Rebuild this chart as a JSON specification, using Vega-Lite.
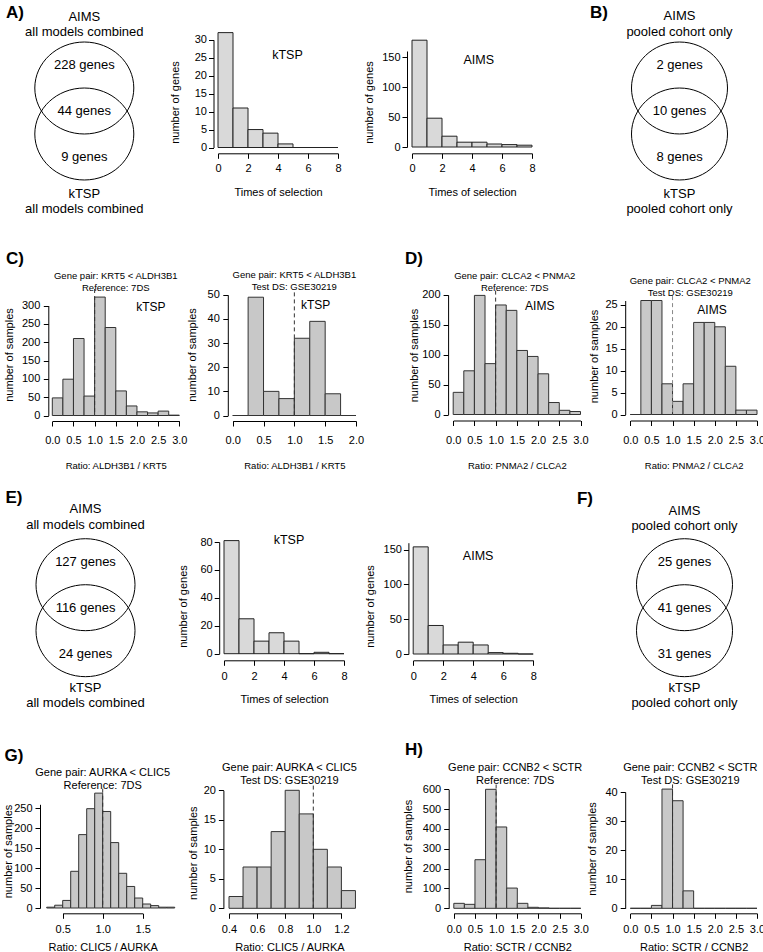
{
"$schema": "https://vega.github.io/schema/vega-lite/v6.json",
"padding": 0,
"background": "white",
"spacing": 0,
"bounds": "flush",
"columns": 4,
"align": "none",
"config": {
 "view": {"stroke": null},
 "font": "Liberation Sans",
 "axis": {"domainColor": "#000", "tickColor": "#000", "labelColor": "#000", "titleColor": "#000", "labelFont": "Liberation Sans", "titleFont": "Liberation Sans", "labelFontSize": 11, "titleFontSize": 11, "titleFontWeight": "normal", "tickSize": 5, "grid": false, "labelFlush": false, "labelOverlap": false, "labelBound": false, "domainWidth": 1, "tickWidth": 1, "tickCount": 20},
 "text": {"font": "Liberation Sans", "fontSize": 13, "align": "center", "baseline": "middle", "color": "#000"}
},
"datasets": {
 "hist": [
  {"panel": "A-kTSP", "bin_start": 0, "bin_end": 1, "count": 32},
  {"panel": "A-kTSP", "bin_start": 1, "bin_end": 2, "count": 11},
  {"panel": "A-kTSP", "bin_start": 2, "bin_end": 3, "count": 5},
  {"panel": "A-kTSP", "bin_start": 3, "bin_end": 4, "count": 4},
  {"panel": "A-kTSP", "bin_start": 4, "bin_end": 5, "count": 1},
  {"panel": "A-kTSP", "bin_start": 5, "bin_end": 6, "count": 0},
  {"panel": "A-kTSP", "bin_start": 6, "bin_end": 7, "count": 0},
  {"panel": "A-kTSP", "bin_start": 7, "bin_end": 8, "count": 0},
  {"panel": "A-AIMS", "bin_start": 0, "bin_end": 1, "count": 178},
  {"panel": "A-AIMS", "bin_start": 1, "bin_end": 2, "count": 48},
  {"panel": "A-AIMS", "bin_start": 2, "bin_end": 3, "count": 18},
  {"panel": "A-AIMS", "bin_start": 3, "bin_end": 4, "count": 8},
  {"panel": "A-AIMS", "bin_start": 4, "bin_end": 5, "count": 8},
  {"panel": "A-AIMS", "bin_start": 5, "bin_end": 6, "count": 5},
  {"panel": "A-AIMS", "bin_start": 6, "bin_end": 7, "count": 4},
  {"panel": "A-AIMS", "bin_start": 7, "bin_end": 8, "count": 3},
  {"panel": "C-left", "bin_start": 0, "bin_end": 0.25, "count": 48},
  {"panel": "C-left", "bin_start": 0.25, "bin_end": 0.5, "count": 99},
  {"panel": "C-left", "bin_start": 0.5, "bin_end": 0.75, "count": 210},
  {"panel": "C-left", "bin_start": 0.75, "bin_end": 1, "count": 53},
  {"panel": "C-left", "bin_start": 1, "bin_end": 1.25, "count": 323},
  {"panel": "C-left", "bin_start": 1.25, "bin_end": 1.5, "count": 240},
  {"panel": "C-left", "bin_start": 1.5, "bin_end": 1.75, "count": 67},
  {"panel": "C-left", "bin_start": 1.75, "bin_end": 2, "count": 26},
  {"panel": "C-left", "bin_start": 2, "bin_end": 2.25, "count": 10},
  {"panel": "C-left", "bin_start": 2.25, "bin_end": 2.5, "count": 7},
  {"panel": "C-left", "bin_start": 2.5, "bin_end": 2.75, "count": 12},
  {"panel": "C-left", "bin_start": 2.75, "bin_end": 3, "count": 1},
  {"panel": "C-right", "bin_start": 0, "bin_end": 0.25, "count": 0},
  {"panel": "C-right", "bin_start": 0.25, "bin_end": 0.5, "count": 49},
  {"panel": "C-right", "bin_start": 0.5, "bin_end": 0.75, "count": 10},
  {"panel": "C-right", "bin_start": 0.75, "bin_end": 1, "count": 7},
  {"panel": "C-right", "bin_start": 1, "bin_end": 1.25, "count": 32},
  {"panel": "C-right", "bin_start": 1.25, "bin_end": 1.5, "count": 39},
  {"panel": "C-right", "bin_start": 1.5, "bin_end": 1.75, "count": 9},
  {"panel": "C-right", "bin_start": 1.75, "bin_end": 2, "count": 0},
  {"panel": "D-left", "bin_start": 0, "bin_end": 0.25, "count": 37},
  {"panel": "D-left", "bin_start": 0.25, "bin_end": 0.5, "count": 73},
  {"panel": "D-left", "bin_start": 0.5, "bin_end": 0.75, "count": 199},
  {"panel": "D-left", "bin_start": 0.75, "bin_end": 1, "count": 85},
  {"panel": "D-left", "bin_start": 1, "bin_end": 1.25, "count": 183},
  {"panel": "D-left", "bin_start": 1.25, "bin_end": 1.5, "count": 174},
  {"panel": "D-left", "bin_start": 1.5, "bin_end": 1.75, "count": 107},
  {"panel": "D-left", "bin_start": 1.75, "bin_end": 2, "count": 97},
  {"panel": "D-left", "bin_start": 2, "bin_end": 2.25, "count": 68},
  {"panel": "D-left", "bin_start": 2.25, "bin_end": 2.5, "count": 20},
  {"panel": "D-left", "bin_start": 2.5, "bin_end": 2.75, "count": 7},
  {"panel": "D-left", "bin_start": 2.75, "bin_end": 3, "count": 5},
  {"panel": "D-right", "bin_start": 0, "bin_end": 0.25, "count": 0},
  {"panel": "D-right", "bin_start": 0.25, "bin_end": 0.5, "count": 26},
  {"panel": "D-right", "bin_start": 0.5, "bin_end": 0.75, "count": 26},
  {"panel": "D-right", "bin_start": 0.75, "bin_end": 1, "count": 7},
  {"panel": "D-right", "bin_start": 1, "bin_end": 1.25, "count": 3},
  {"panel": "D-right", "bin_start": 1.25, "bin_end": 1.5, "count": 7},
  {"panel": "D-right", "bin_start": 1.5, "bin_end": 1.75, "count": 21},
  {"panel": "D-right", "bin_start": 1.75, "bin_end": 2, "count": 21},
  {"panel": "D-right", "bin_start": 2, "bin_end": 2.25, "count": 20},
  {"panel": "D-right", "bin_start": 2.25, "bin_end": 2.5, "count": 11},
  {"panel": "D-right", "bin_start": 2.5, "bin_end": 2.75, "count": 1},
  {"panel": "D-right", "bin_start": 2.75, "bin_end": 3, "count": 1},
  {"panel": "E-kTSP", "bin_start": 0, "bin_end": 1, "count": 81},
  {"panel": "E-kTSP", "bin_start": 1, "bin_end": 2, "count": 25},
  {"panel": "E-kTSP", "bin_start": 2, "bin_end": 3, "count": 9},
  {"panel": "E-kTSP", "bin_start": 3, "bin_end": 4, "count": 15},
  {"panel": "E-kTSP", "bin_start": 4, "bin_end": 5, "count": 9},
  {"panel": "E-kTSP", "bin_start": 5, "bin_end": 6, "count": 0},
  {"panel": "E-kTSP", "bin_start": 6, "bin_end": 7, "count": 1},
  {"panel": "E-kTSP", "bin_start": 7, "bin_end": 8, "count": 0},
  {"panel": "E-AIMS", "bin_start": 0, "bin_end": 1, "count": 154},
  {"panel": "E-AIMS", "bin_start": 1, "bin_end": 2, "count": 41},
  {"panel": "E-AIMS", "bin_start": 2, "bin_end": 3, "count": 13},
  {"panel": "E-AIMS", "bin_start": 3, "bin_end": 4, "count": 17},
  {"panel": "E-AIMS", "bin_start": 4, "bin_end": 5, "count": 13},
  {"panel": "E-AIMS", "bin_start": 5, "bin_end": 6, "count": 2},
  {"panel": "E-AIMS", "bin_start": 6, "bin_end": 7, "count": 1},
  {"panel": "E-AIMS", "bin_start": 7, "bin_end": 8, "count": 0},
  {"panel": "G-left", "bin_start": 0.3, "bin_end": 0.4, "count": 2},
  {"panel": "G-left", "bin_start": 0.4, "bin_end": 0.5, "count": 7},
  {"panel": "G-left", "bin_start": 0.5, "bin_end": 0.6, "count": 19},
  {"panel": "G-left", "bin_start": 0.6, "bin_end": 0.7, "count": 92},
  {"panel": "G-left", "bin_start": 0.7, "bin_end": 0.8, "count": 184},
  {"panel": "G-left", "bin_start": 0.8, "bin_end": 0.9, "count": 249},
  {"panel": "G-left", "bin_start": 0.9, "bin_end": 1.0, "count": 288},
  {"panel": "G-left", "bin_start": 1.0, "bin_end": 1.1, "count": 242},
  {"panel": "G-left", "bin_start": 1.1, "bin_end": 1.2, "count": 164},
  {"panel": "G-left", "bin_start": 1.2, "bin_end": 1.3, "count": 87},
  {"panel": "G-left", "bin_start": 1.3, "bin_end": 1.4, "count": 54},
  {"panel": "G-left", "bin_start": 1.4, "bin_end": 1.5, "count": 25},
  {"panel": "G-left", "bin_start": 1.5, "bin_end": 1.6, "count": 10},
  {"panel": "G-left", "bin_start": 1.6, "bin_end": 1.7, "count": 6},
  {"panel": "G-left", "bin_start": 1.7, "bin_end": 1.8, "count": 2},
  {"panel": "G-left", "bin_start": 1.8, "bin_end": 1.9, "count": 2},
  {"panel": "G-right", "bin_start": 0.4, "bin_end": 0.5, "count": 2},
  {"panel": "G-right", "bin_start": 0.5, "bin_end": 0.6, "count": 7},
  {"panel": "G-right", "bin_start": 0.6, "bin_end": 0.7, "count": 7},
  {"panel": "G-right", "bin_start": 0.7, "bin_end": 0.8, "count": 13},
  {"panel": "G-right", "bin_start": 0.8, "bin_end": 0.9, "count": 20},
  {"panel": "G-right", "bin_start": 0.9, "bin_end": 1.0, "count": 16},
  {"panel": "G-right", "bin_start": 1.0, "bin_end": 1.1, "count": 10},
  {"panel": "G-right", "bin_start": 1.1, "bin_end": 1.2, "count": 7},
  {"panel": "G-right", "bin_start": 1.2, "bin_end": 1.3, "count": 3},
  {"panel": "H-left", "bin_start": 0, "bin_end": 0.25, "count": 25},
  {"panel": "H-left", "bin_start": 0.25, "bin_end": 0.5, "count": 20},
  {"panel": "H-left", "bin_start": 0.5, "bin_end": 0.75, "count": 245},
  {"panel": "H-left", "bin_start": 0.75, "bin_end": 1, "count": 600},
  {"panel": "H-left", "bin_start": 1, "bin_end": 1.25, "count": 410},
  {"panel": "H-left", "bin_start": 1.25, "bin_end": 1.5, "count": 102},
  {"panel": "H-left", "bin_start": 1.5, "bin_end": 1.75, "count": 25},
  {"panel": "H-left", "bin_start": 1.75, "bin_end": 2, "count": 5},
  {"panel": "H-left", "bin_start": 2, "bin_end": 2.25, "count": 2},
  {"panel": "H-left", "bin_start": 2.25, "bin_end": 2.5, "count": 0},
  {"panel": "H-left", "bin_start": 2.5, "bin_end": 2.75, "count": 0},
  {"panel": "H-left", "bin_start": 2.75, "bin_end": 3, "count": 0},
  {"panel": "H-right", "bin_start": 0, "bin_end": 0.25, "count": 0},
  {"panel": "H-right", "bin_start": 0.25, "bin_end": 0.5, "count": 0},
  {"panel": "H-right", "bin_start": 0.5, "bin_end": 0.75, "count": 1},
  {"panel": "H-right", "bin_start": 0.75, "bin_end": 1, "count": 41},
  {"panel": "H-right", "bin_start": 1, "bin_end": 1.25, "count": 37},
  {"panel": "H-right", "bin_start": 1.25, "bin_end": 1.5, "count": 6},
  {"panel": "H-right", "bin_start": 1.5, "bin_end": 1.75, "count": 0},
  {"panel": "H-right", "bin_start": 1.75, "bin_end": 2, "count": 0},
  {"panel": "H-right", "bin_start": 2, "bin_end": 2.25, "count": 0},
  {"panel": "H-right", "bin_start": 2.25, "bin_end": 2.5, "count": 0},
  {"panel": "H-right", "bin_start": 2.5, "bin_end": 2.75, "count": 0},
  {"panel": "H-right", "bin_start": 2.75, "bin_end": 3, "count": 0}
 ],
 "panels": [
  {"panel": "A-kTSP", "model": "kTSP"},
  {"panel": "A-AIMS", "model": "AIMS"},
  {"panel": "C-left", "model": "kTSP", "title": "Gene pair: KRT5 < ALDH3B1\nReference: 7DS"},
  {"panel": "C-right", "model": "kTSP", "title": "Gene pair: KRT5 < ALDH3B1\nTest DS: GSE30219"},
  {"panel": "D-left", "model": "AIMS", "title": "Gene pair: CLCA2 < PNMA2\nReference: 7DS"},
  {"panel": "D-right", "model": "AIMS", "title": "Gene pair: CLCA2 < PNMA2\nTest DS: GSE30219"},
  {"panel": "E-kTSP", "model": "kTSP"},
  {"panel": "E-AIMS", "model": "AIMS"},
  {"panel": "G-left", "title": "Gene pair: AURKA < CLIC5\nReference: 7DS"},
  {"panel": "G-right", "title": "Gene pair: AURKA < CLIC5\nTest DS: GSE30219"},
  {"panel": "H-left", "title": "Gene pair: CCNB2 < SCTR\nReference: 7DS"},
  {"panel": "H-right", "title": "Gene pair: CCNB2 < SCTR\nTest DS: GSE30219"}
 ],
 "venn": [
  {"panel": "A", "region": "AIMS only", "genes": 228},
  {"panel": "A", "region": "both", "genes": 44},
  {"panel": "A", "region": "kTSP only", "genes": 9},
  {"panel": "B", "region": "AIMS only", "genes": 2},
  {"panel": "B", "region": "both", "genes": 10},
  {"panel": "B", "region": "kTSP only", "genes": 8},
  {"panel": "E", "region": "AIMS only", "genes": 127},
  {"panel": "E", "region": "both", "genes": 116},
  {"panel": "E", "region": "kTSP only", "genes": 24},
  {"panel": "F", "region": "AIMS only", "genes": 25},
  {"panel": "F", "region": "both", "genes": 41},
  {"panel": "F", "region": "kTSP only", "genes": 31}
 ],
 "vennSets": [
  {"panel": "A", "set": "AIMS", "scope": "all models combined"},
  {"panel": "A", "set": "kTSP", "scope": "all models combined"},
  {"panel": "B", "set": "AIMS", "scope": "pooled cohort only"},
  {"panel": "B", "set": "kTSP", "scope": "pooled cohort only"},
  {"panel": "E", "set": "AIMS", "scope": "all models combined"},
  {"panel": "E", "set": "kTSP", "scope": "all models combined"},
  {"panel": "F", "set": "AIMS", "scope": "pooled cohort only"},
  {"panel": "F", "set": "kTSP", "scope": "pooled cohort only"}
 ]
},
"concat": [
  {"width": 217.3, "height": 147.5,
   "encoding": {"x": {"datum": 0, "type": "quantitative", "scale": {"domain": [-1, 1], "range": [34.8, 133.8]}, "axis": null}},
   "layer": [
    {"data": {"name": "vennSets"}, "transform": [{"filter": "datum.panel == 'A' && datum.set == 'AIMS'"}], "mark": {"type": "point", "shape": "M-1,0A1,0.929,0,1,1,1,0A1,0.929,0,1,1,-1,0Z", "size": 9801, "filled": false, "color": "#000", "strokeWidth": 1, "opacity": 1}, "encoding": {"y": {"datum": 0.5, "type": "quantitative", "scale": {"domain": [-1, 1], "range": [157, 65]}, "axis": null}}},
    {"data": {"name": "vennSets"}, "transform": [{"filter": "datum.panel == 'A' && datum.set == 'kTSP'"}], "mark": {"type": "point", "shape": "M-1,0A1,0.929,0,1,1,1,0A1,0.929,0,1,1,-1,0Z", "size": 9801, "filled": false, "color": "#000", "strokeWidth": 1, "opacity": 1}, "encoding": {"y": {"datum": -0.5, "axis": null}}},
    {"data": {"name": "vennSets"}, "transform": [{"filter": "datum.panel == 'A' && datum.set == 'AIMS'"}], "mark": {"type": "text"}, "encoding": {"y": {"datum": 2.043, "axis": null}, "text": {"field": "set"}}},
    {"data": {"name": "vennSets"}, "transform": [{"filter": "datum.panel == 'A' && datum.set == 'AIMS'"}], "mark": {"type": "text"}, "encoding": {"y": {"datum": 1.717, "axis": null}, "text": {"field": "scope"}}},
    {"data": {"name": "vennSets"}, "transform": [{"filter": "datum.panel == 'A' && datum.set == 'kTSP'"}], "mark": {"type": "text"}, "encoding": {"y": {"datum": -1.804, "axis": null}, "text": {"field": "set"}}},
    {"data": {"name": "vennSets"}, "transform": [{"filter": "datum.panel == 'A' && datum.set == 'kTSP'"}], "mark": {"type": "text"}, "encoding": {"y": {"datum": -2.13, "axis": null}, "text": {"field": "scope"}}},
    {"data": {"name": "vennSets"}, "transform": [{"filter": "datum.panel == 'A' && datum.set == 'AIMS'"}], "mark": {"type": "text", "fontSize": 17, "fontWeight": "bold"}, "encoding": {"x": {"datum": -1.4}, "y": {"datum": 2.14, "axis": null}, "text": {"value": "A)"}}},
    {"data": {"name": "venn"}, "transform": [{"filter": "datum.panel == 'A' && datum.region == 'AIMS only'"}, {"calculate": "datum.genes + ' genes'", "as": "label"}], "mark": {"type": "text"}, "encoding": {"y": {"datum": 1, "axis": null}, "text": {"field": "label"}}},
    {"data": {"name": "venn"}, "transform": [{"filter": "datum.panel == 'A' && datum.region == 'both'"}, {"calculate": "datum.genes + ' genes'", "as": "label"}], "mark": {"type": "text"}, "encoding": {"y": {"datum": 0, "axis": null}, "text": {"field": "label"}}},
    {"data": {"name": "venn"}, "transform": [{"filter": "datum.panel == 'A' && datum.region == 'kTSP only'"}, {"calculate": "datum.genes + ' genes'", "as": "label"}], "mark": {"type": "text"}, "encoding": {"y": {"datum": -1, "axis": null}, "text": {"field": "label"}}}
   ]},
  {"width": 193.2, "height": 147.5,
   "layer": [
    {"data": {"name": "hist"}, "transform": [{"filter": "datum.panel == 'A-kTSP'"}], "mark": {"type": "rect", "fill": "#d9d9d9", "stroke": "#222", "strokeWidth": 1},
     "encoding": {
      "x": {"field": "bin_start", "type": "quantitative", "scale": {"domain": [0, 8], "range": [0, 120]}, "axis": {"values": [0, 2, 4, 6, 8], "tickCount": 20, "format": "d", "labelOverlap": false, "offset": 5.8, "labelPadding": 10, "labelBaseline": "middle", "title": "Times of selection", "titleY": 39, "titleBaseline": "middle"}},
      "x2": {"field": "bin_end"},
      "y": {"field": "count", "type": "quantitative", "scale": {"domain": [0, 30], "range": [147.5, 39.8]}, "axis": {"values": [0, 5, 10, 15, 20, 25, 30], "tickCount": 20, "format": "d", "labelOverlap": false, "offset": 4.5, "labelPadding": 2, "title": "number of genes", "titleX": -38, "titleY": 102, "titleBaseline": "middle"}},
      "y2": {"datum": 0}}},
    {"data": {"name": "panels"}, "transform": [{"filter": "datum.panel == 'A-kTSP'"}], "mark": {"type": "text", "fontSize": 12.5}, "encoding": {"x": {"datum": 4.63}, "y": {"datum": 25.8}, "text": {"field": "model"}}}
   ]},
  {"width": 189.5, "height": 147.5,
   "layer": [
    {"data": {"name": "hist"}, "transform": [{"filter": "datum.panel == 'A-AIMS'"}], "mark": {"type": "rect", "fill": "#d9d9d9", "stroke": "#222", "strokeWidth": 1},
     "encoding": {
      "x": {"field": "bin_start", "type": "quantitative", "scale": {"domain": [0, 8], "range": [0, 120]}, "axis": {"values": [0, 2, 4, 6, 8], "tickCount": 20, "format": "d", "labelOverlap": false, "offset": 5.8, "labelPadding": 10, "labelBaseline": "middle", "title": "Times of selection", "titleY": 39, "titleBaseline": "middle"}},
      "x2": {"field": "bin_end"},
      "y": {"field": "count", "type": "quantitative", "scale": {"domain": [0, 150], "range": [147, 51]}, "axis": {"values": [0, 50, 100, 150], "tickCount": 20, "format": "d", "labelOverlap": false, "offset": 5, "labelPadding": 2, "title": "number of genes", "titleX": -38, "titleY": 102, "titleBaseline": "middle"}},
      "y2": {"datum": 0}}},
    {"data": {"name": "panels"}, "transform": [{"filter": "datum.panel == 'A-AIMS'"}], "mark": {"type": "text", "fontSize": 12.5}, "encoding": {"x": {"datum": 4.45}, "y": {"datum": 144.8}, "text": {"field": "model"}}}
   ]},
  {"width": 163, "height": 147.5,
   "encoding": {"x": {"datum": 0, "type": "quantitative", "scale": {"domain": [-1, 1], "range": [29.5, 125.5]}, "axis": null}},
   "layer": [
    {"data": {"name": "vennSets"}, "transform": [{"filter": "datum.panel == 'B' && datum.set == 'AIMS'"}], "mark": {"type": "point", "shape": "M-1,0A1,0.958,0,1,1,1,0A1,0.958,0,1,1,-1,0Z", "size": 9216, "filled": false, "color": "#000", "strokeWidth": 1, "opacity": 1}, "encoding": {"y": {"datum": 0.5, "type": "quantitative", "scale": {"domain": [-1, 1], "range": [157, 65]}, "axis": null}}},
    {"data": {"name": "vennSets"}, "transform": [{"filter": "datum.panel == 'B' && datum.set == 'kTSP'"}], "mark": {"type": "point", "shape": "M-1,0A1,0.958,0,1,1,1,0A1,0.958,0,1,1,-1,0Z", "size": 9216, "filled": false, "color": "#000", "strokeWidth": 1, "opacity": 1}, "encoding": {"y": {"datum": -0.5, "axis": null}}},
    {"data": {"name": "vennSets"}, "transform": [{"filter": "datum.panel == 'B' && datum.set == 'AIMS'"}], "mark": {"type": "text"}, "encoding": {"y": {"datum": 2.07, "axis": null}, "text": {"field": "set"}}},
    {"data": {"name": "vennSets"}, "transform": [{"filter": "datum.panel == 'B' && datum.set == 'AIMS'"}], "mark": {"type": "text"}, "encoding": {"y": {"datum": 1.71, "axis": null}, "text": {"field": "scope"}}},
    {"data": {"name": "vennSets"}, "transform": [{"filter": "datum.panel == 'B' && datum.set == 'kTSP'"}], "mark": {"type": "text"}, "encoding": {"y": {"datum": -1.8, "axis": null}, "text": {"field": "set"}}},
    {"data": {"name": "vennSets"}, "transform": [{"filter": "datum.panel == 'B' && datum.set == 'kTSP'"}], "mark": {"type": "text"}, "encoding": {"y": {"datum": -2.13, "axis": null}, "text": {"field": "scope"}}},
    {"data": {"name": "vennSets"}, "transform": [{"filter": "datum.panel == 'B' && datum.set == 'AIMS'"}], "mark": {"type": "text", "fontSize": 17, "fontWeight": "bold"}, "encoding": {"x": {"datum": -1.677}, "y": {"datum": 2.14, "axis": null}, "text": {"value": "B)"}}},
    {"data": {"name": "venn"}, "transform": [{"filter": "datum.panel == 'B' && datum.region == 'AIMS only'"}, {"calculate": "datum.genes + ' genes'", "as": "label"}], "mark": {"type": "text"}, "encoding": {"y": {"datum": 1, "axis": null}, "text": {"field": "label"}}},
    {"data": {"name": "venn"}, "transform": [{"filter": "datum.panel == 'B' && datum.region == 'both'"}, {"calculate": "datum.genes + ' genes'", "as": "label"}], "mark": {"type": "text"}, "encoding": {"y": {"datum": 0, "axis": null}, "text": {"field": "label"}}},
    {"data": {"name": "venn"}, "transform": [{"filter": "datum.panel == 'B' && datum.region == 'kTSP only'"}, {"calculate": "datum.genes + ' genes'", "as": "label"}], "mark": {"type": "text"}, "encoding": {"y": {"datum": -1, "axis": null}, "text": {"field": "label"}}}
   ]},
  {"width": 217.3, "height": 267.5,
   "layer": [
    {"data": {"name": "hist"}, "transform": [{"filter": "datum.panel == 'C-left'"}], "mark": {"type": "rect", "fill": "#c8c8c8", "stroke": "#333", "strokeWidth": 1},
     "encoding": {
      "x": {"field": "bin_start", "type": "quantitative", "scale": {"domain": [0, 3], "range": [52.3, 179.3]}, "axis": {"values": [0, 0.5, 1, 1.5, 2, 2.5, 3], "tickCount": 20, "format": ".1f", "labelOverlap": false, "offset": 5.5, "labelPadding": 14.3, "labelBaseline": "middle", "title": "Ratio: ALDH3B1 / KRT5", "titleFontSize": 9.5, "titleY": 44.5, "titleBaseline": "middle"}},
      "x2": {"field": "bin_end"},
      "y": {"field": "count", "type": "quantitative", "scale": {"domain": [0, 300], "range": [267.5, 157.5]}, "axis": {"values": [0, 50, 100, 150, 200, 250, 300], "tickCount": 20, "format": "d", "labelOverlap": false, "offset": -48.3, "labelPadding": 3.5, "title": "number of samples", "titleX": -39, "titleY": 206.5, "titleBaseline": "middle"}},
      "y2": {"datum": 0}}},
    {"data": {"name": "panels"}, "transform": [{"filter": "datum.panel == 'C-left'"}], "mark": {"type": "rule", "strokeDash": [4, 3], "color": "#333", "strokeWidth": 1}, "encoding": {"x": {"datum": 1}, "y": {"datum": 345}, "y2": {"datum": 0}}},
    {"data": {"name": "panels"}, "transform": [{"filter": "datum.panel == 'C-left'"}], "mark": {"type": "text", "fontSize": 9.5, "lineBreak": "\n", "lineHeight": 12}, "encoding": {"x": {"datum": 1.5}, "y": {"datum": 381.8}, "text": {"field": "title"}}},
    {"data": {"name": "panels"}, "transform": [{"filter": "datum.panel == 'C-left'"}], "mark": {"type": "text", "fontSize": 12}, "encoding": {"x": {"datum": 2.33}, "y": {"datum": 297}, "text": {"field": "model"}}},
    {"data": {"name": "panels"}, "transform": [{"filter": "datum.panel == 'C-left'"}], "mark": {"type": "text", "fontSize": 17, "fontWeight": "bold"}, "encoding": {"x": {"datum": -0.881}, "y": {"datum": 425.5}, "text": {"value": "C)"}}}
   ]},
  {"width": 193.2, "height": 267.5,
   "layer": [
    {"data": {"name": "hist"}, "transform": [{"filter": "datum.panel == 'C-right'"}], "mark": {"type": "rect", "fill": "#c8c8c8", "stroke": "#333", "strokeWidth": 1},
     "encoding": {
      "x": {"field": "bin_start", "type": "quantitative", "scale": {"domain": [0, 2], "range": [14.7, 138]}, "axis": {"values": [0, 0.5, 1, 1.5, 2], "tickCount": 20, "format": ".1f", "labelOverlap": false, "offset": 5.5, "labelPadding": 14.3, "labelBaseline": "middle", "title": "Ratio: ALDH3B1 / KRT5", "titleFontSize": 9.5, "titleY": 44.5, "titleBaseline": "middle"}},
      "x2": {"field": "bin_end"},
      "y": {"field": "count", "type": "quantitative", "scale": {"domain": [0, 50], "range": [267.5, 146.8]}, "axis": {"values": [0, 10, 20, 30, 40, 50], "tickCount": 20, "format": "d", "labelOverlap": false, "offset": -9.8, "labelPadding": 3.5, "title": "number of samples", "titleX": -35, "titleY": 206.5, "titleBaseline": "middle"}},
      "y2": {"datum": 0}}},
    {"data": {"name": "panels"}, "transform": [{"filter": "datum.panel == 'C-right'"}], "mark": {"type": "rule", "strokeDash": [4, 3], "color": "#333", "strokeWidth": 1}, "encoding": {"x": {"datum": 1}, "y": {"datum": 51}, "y2": {"datum": 0}}},
    {"data": {"name": "panels"}, "transform": [{"filter": "datum.panel == 'C-right'"}], "mark": {"type": "text", "fontSize": 9.5, "lineBreak": "\n", "lineHeight": 12}, "encoding": {"x": {"datum": 1.0}, "y": {"datum": 58}, "text": {"field": "title"}}},
    {"data": {"name": "panels"}, "transform": [{"filter": "datum.panel == 'C-right'"}], "mark": {"type": "text", "fontSize": 12}, "encoding": {"x": {"datum": 1.345}, "y": {"datum": 45.6}, "text": {"field": "model"}}}
   ]},
  {"width": 189.5, "height": 267.5,
   "layer": [
    {"data": {"name": "hist"}, "transform": [{"filter": "datum.panel == 'D-left'"}], "mark": {"type": "rect", "fill": "#c8c8c8", "stroke": "#333", "strokeWidth": 1},
     "encoding": {
      "x": {"field": "bin_start", "type": "quantitative", "scale": {"domain": [0, 3], "range": [41.2, 168.5]}, "axis": {"values": [0, 0.5, 1, 1.5, 2, 2.5, 3], "tickCount": 20, "format": ".1f", "labelOverlap": false, "offset": 5, "labelPadding": 14.8, "labelBaseline": "middle", "title": "Ratio: PNMA2 / CLCA2", "titleFontSize": 9.5, "titleY": 45, "titleBaseline": "middle"}},
      "x2": {"field": "bin_end"},
      "y": {"field": "count", "type": "quantitative", "scale": {"domain": [0, 200], "range": [266.5, 146.8]}, "axis": {"values": [0, 50, 100, 150, 200], "tickCount": 20, "format": "d", "labelOverlap": false, "offset": -36.1, "labelPadding": 3, "title": "number of samples", "titleX": -34, "titleY": 207, "titleBaseline": "middle"}},
      "y2": {"datum": 0}}},
    {"data": {"name": "panels"}, "transform": [{"filter": "datum.panel == 'D-left'"}], "mark": {"type": "rule", "strokeDash": [4, 3], "color": "#333", "strokeWidth": 1}, "encoding": {"x": {"datum": 1}, "y": {"datum": 207}, "y2": {"datum": 0}}},
    {"data": {"name": "panels"}, "transform": [{"filter": "datum.panel == 'D-left'"}], "mark": {"type": "text", "fontSize": 9.5, "lineBreak": "\n", "lineHeight": 12}, "encoding": {"x": {"datum": 1.45}, "y": {"datum": 232.2}, "text": {"field": "title"}}},
    {"data": {"name": "panels"}, "transform": [{"filter": "datum.panel == 'D-left'"}], "mark": {"type": "text", "fontSize": 12}, "encoding": {"x": {"datum": 2.04}, "y": {"datum": 182}, "text": {"field": "model"}}},
    {"data": {"name": "panels"}, "transform": [{"filter": "datum.panel == 'D-left'"}], "mark": {"type": "text", "fontSize": 17, "fontWeight": "bold"}, "encoding": {"x": {"datum": -0.924}, "y": {"datum": 259}, "text": {"value": "D)"}}}
   ]},
  {"width": 163, "height": 267.5,
   "layer": [
    {"data": {"name": "hist"}, "transform": [{"filter": "datum.panel == 'D-right'"}], "mark": {"type": "rect", "fill": "#c8c8c8", "stroke": "#333", "strokeWidth": 1},
     "encoding": {
      "x": {"field": "bin_start", "type": "quantitative", "scale": {"domain": [0, 3], "range": [28.3, 155]}, "axis": {"values": [0, 0.5, 1, 1.5, 2, 2.5, 3], "tickCount": 20, "format": ".1f", "labelOverlap": false, "offset": 5, "labelPadding": 14.8, "labelBaseline": "middle", "title": "Ratio: PNMA2 / CLCA2", "titleFontSize": 9.5, "titleY": 45, "titleBaseline": "middle"}},
      "x2": {"field": "bin_end"},
      "y": {"field": "count", "type": "quantitative", "scale": {"domain": [0, 25], "range": [266.5, 152.5]}, "axis": {"values": [0, 5, 10, 15, 20, 25], "tickCount": 20, "format": "d", "labelOverlap": false, "offset": -23.2, "labelPadding": 3, "title": "number of samples", "titleX": -31, "titleY": 208, "titleBaseline": "middle"}},
      "y2": {"datum": 0}}},
    {"data": {"name": "panels"}, "transform": [{"filter": "datum.panel == 'D-right'"}], "mark": {"type": "rule", "strokeDash": [4, 3], "color": "#888", "strokeWidth": 1}, "encoding": {"x": {"datum": 1}, "y": {"datum": 27}, "y2": {"datum": 0}}},
    {"data": {"name": "panels"}, "transform": [{"filter": "datum.panel == 'D-right'"}], "mark": {"type": "text", "fontSize": 9.5, "lineBreak": "\n", "lineHeight": 12}, "encoding": {"x": {"datum": 1.42}, "y": {"datum": 30.5}, "text": {"field": "title"}}},
    {"data": {"name": "panels"}, "transform": [{"filter": "datum.panel == 'D-right'"}], "mark": {"type": "text", "fontSize": 12}, "encoding": {"x": {"datum": 1.935}, "y": {"datum": 23.9}, "text": {"field": "model"}}}
   ]},
  {"width": 217.3, "height": 238,
   "encoding": {"x": {"datum": 0, "type": "quantitative", "scale": {"domain": [-1, 1], "range": [36, 135]}, "axis": null}},
   "layer": [
    {"data": {"name": "vennSets"}, "transform": [{"filter": "datum.panel == 'E' && datum.set == 'AIMS'"}], "mark": {"type": "point", "shape": "M-1,0A1,0.929,0,1,1,1,0A1,0.929,0,1,1,-1,0Z", "size": 9801, "filled": false, "color": "#000", "strokeWidth": 1, "opacity": 1}, "encoding": {"y": {"datum": 0.5, "type": "quantitative", "scale": {"domain": [-1, 1], "range": [237.7, 145.7]}, "axis": null}}},
    {"data": {"name": "vennSets"}, "transform": [{"filter": "datum.panel == 'E' && datum.set == 'kTSP'"}], "mark": {"type": "point", "shape": "M-1,0A1,0.929,0,1,1,1,0A1,0.929,0,1,1,-1,0Z", "size": 9801, "filled": false, "color": "#000", "strokeWidth": 1, "opacity": 1}, "encoding": {"y": {"datum": -0.5, "axis": null}}},
    {"data": {"name": "vennSets"}, "transform": [{"filter": "datum.panel == 'E' && datum.set == 'AIMS'"}], "mark": {"type": "text"}, "encoding": {"y": {"datum": 2.139, "axis": null}, "text": {"field": "set"}}},
    {"data": {"name": "vennSets"}, "transform": [{"filter": "datum.panel == 'E' && datum.set == 'AIMS'"}], "mark": {"type": "text"}, "encoding": {"y": {"datum": 1.8, "axis": null}, "text": {"field": "scope"}}},
    {"data": {"name": "vennSets"}, "transform": [{"filter": "datum.panel == 'E' && datum.set == 'kTSP'"}], "mark": {"type": "text"}, "encoding": {"y": {"datum": -1.739, "axis": null}, "text": {"field": "set"}}},
    {"data": {"name": "vennSets"}, "transform": [{"filter": "datum.panel == 'E' && datum.set == 'kTSP'"}], "mark": {"type": "text"}, "encoding": {"y": {"datum": -2.065, "axis": null}, "text": {"field": "scope"}}},
    {"data": {"name": "vennSets"}, "transform": [{"filter": "datum.panel == 'E' && datum.set == 'AIMS'"}], "mark": {"type": "text", "fontSize": 17, "fontWeight": "bold"}, "encoding": {"x": {"datum": -1.444}, "y": {"datum": 2.374, "axis": null}, "text": {"value": "E)"}}},
    {"data": {"name": "venn"}, "transform": [{"filter": "datum.panel == 'E' && datum.region == 'AIMS only'"}, {"calculate": "datum.genes + ' genes'", "as": "label"}], "mark": {"type": "text"}, "encoding": {"y": {"datum": 1, "axis": null}, "text": {"field": "label"}}},
    {"data": {"name": "venn"}, "transform": [{"filter": "datum.panel == 'E' && datum.region == 'both'"}, {"calculate": "datum.genes + ' genes'", "as": "label"}], "mark": {"type": "text"}, "encoding": {"y": {"datum": 0, "axis": null}, "text": {"field": "label"}}},
    {"data": {"name": "venn"}, "transform": [{"filter": "datum.panel == 'E' && datum.region == 'kTSP only'"}, {"calculate": "datum.genes + ' genes'", "as": "label"}], "mark": {"type": "text"}, "encoding": {"y": {"datum": -1, "axis": null}, "text": {"field": "label"}}}
   ]},
  {"width": 193.2, "height": 238,
   "layer": [
    {"data": {"name": "hist"}, "transform": [{"filter": "datum.panel == 'E-kTSP'"}], "mark": {"type": "rect", "fill": "#d9d9d9", "stroke": "#222", "strokeWidth": 1},
     "encoding": {
      "x": {"field": "bin_start", "type": "quantitative", "scale": {"domain": [0, 8], "range": [6, 126]}, "axis": {"values": [0, 2, 4, 6, 8], "tickCount": 20, "format": "d", "labelOverlap": false, "offset": 6.3, "labelPadding": 10.7, "labelBaseline": "middle", "title": "Times of selection", "titleY": 39, "titleBaseline": "middle"}},
      "x2": {"field": "bin_end"},
      "y": {"field": "count", "type": "quantitative", "scale": {"domain": [0, 80], "range": [237.7, 126]}, "axis": {"values": [0, 20, 40, 60, 80], "tickCount": 20, "format": "d", "labelOverlap": false, "offset": -1.2, "labelPadding": 2, "title": "number of genes", "titleX": -36, "titleY": 190, "titleBaseline": "middle"}},
      "y2": {"datum": 0}}},
    {"data": {"name": "panels"}, "transform": [{"filter": "datum.panel == 'E-kTSP'"}], "mark": {"type": "text", "fontSize": 12.5}, "encoding": {"x": {"datum": 4.33}, "y": {"datum": 81.2}, "text": {"field": "model"}}}
   ]},
  {"width": 189.5, "height": 238,
   "layer": [
    {"data": {"name": "hist"}, "transform": [{"filter": "datum.panel == 'E-AIMS'"}], "mark": {"type": "rect", "fill": "#d9d9d9", "stroke": "#222", "strokeWidth": 1},
     "encoding": {
      "x": {"field": "bin_start", "type": "quantitative", "scale": {"domain": [0, 8], "range": [1.2, 121.2]}, "axis": {"values": [0, 2, 4, 6, 8], "tickCount": 20, "format": "d", "labelOverlap": false, "offset": 6.3, "labelPadding": 10.7, "labelBaseline": "middle", "title": "Times of selection", "titleY": 39, "titleBaseline": "middle"}},
      "x2": {"field": "bin_end"},
      "y": {"field": "count", "type": "quantitative", "scale": {"domain": [0, 150], "range": [238, 126.7]}, "axis": {"values": [0, 50, 100, 150], "tickCount": 20, "format": "d", "labelOverlap": false, "offset": 3.6, "labelPadding": 2, "title": "number of genes", "titleX": -38, "titleY": 190, "titleBaseline": "middle"}},
      "y2": {"datum": 0}}},
    {"data": {"name": "panels"}, "transform": [{"filter": "datum.panel == 'E-AIMS'"}], "mark": {"type": "text", "fontSize": 12.5}, "encoding": {"x": {"datum": 4.33}, "y": {"datum": 141}, "text": {"field": "model"}}}
   ]},
  {"width": 163, "height": 238,
   "encoding": {"x": {"datum": 0, "type": "quantitative", "scale": {"domain": [-1, 1], "range": [34.5, 130.5]}, "axis": null}},
   "layer": [
    {"data": {"name": "vennSets"}, "transform": [{"filter": "datum.panel == 'F' && datum.set == 'AIMS'"}], "mark": {"type": "point", "shape": "M-1,0A1,0.958,0,1,1,1,0A1,0.958,0,1,1,-1,0Z", "size": 9216, "filled": false, "color": "#000", "strokeWidth": 1, "opacity": 1}, "encoding": {"y": {"datum": 0.5, "type": "quantitative", "scale": {"domain": [-1, 1], "range": [237.7, 145.7]}, "axis": null}}},
    {"data": {"name": "vennSets"}, "transform": [{"filter": "datum.panel == 'F' && datum.set == 'kTSP'"}], "mark": {"type": "point", "shape": "M-1,0A1,0.958,0,1,1,1,0A1,0.958,0,1,1,-1,0Z", "size": 9216, "filled": false, "color": "#000", "strokeWidth": 1, "opacity": 1}, "encoding": {"y": {"datum": -0.5, "axis": null}}},
    {"data": {"name": "vennSets"}, "transform": [{"filter": "datum.panel == 'F' && datum.set == 'AIMS'"}], "mark": {"type": "text"}, "encoding": {"y": {"datum": 2.1, "axis": null}, "text": {"field": "set"}}},
    {"data": {"name": "vennSets"}, "transform": [{"filter": "datum.panel == 'F' && datum.set == 'AIMS'"}], "mark": {"type": "text"}, "encoding": {"y": {"datum": 1.776, "axis": null}, "text": {"field": "scope"}}},
    {"data": {"name": "vennSets"}, "transform": [{"filter": "datum.panel == 'F' && datum.set == 'kTSP'"}], "mark": {"type": "text"}, "encoding": {"y": {"datum": -1.739, "axis": null}, "text": {"field": "set"}}},
    {"data": {"name": "vennSets"}, "transform": [{"filter": "datum.panel == 'F' && datum.set == 'kTSP'"}], "mark": {"type": "text"}, "encoding": {"y": {"datum": -2.065, "axis": null}, "text": {"field": "scope"}}},
    {"data": {"name": "vennSets"}, "transform": [{"filter": "datum.panel == 'F' && datum.set == 'AIMS'"}], "mark": {"type": "text", "fontSize": 17, "fontWeight": "bold"}, "encoding": {"x": {"datum": -2.073}, "y": {"datum": 2.363, "axis": null}, "text": {"value": "F)"}}},
    {"data": {"name": "venn"}, "transform": [{"filter": "datum.panel == 'F' && datum.region == 'AIMS only'"}, {"calculate": "datum.genes + ' genes'", "as": "label"}], "mark": {"type": "text"}, "encoding": {"y": {"datum": 1, "axis": null}, "text": {"field": "label"}}},
    {"data": {"name": "venn"}, "transform": [{"filter": "datum.panel == 'F' && datum.region == 'both'"}, {"calculate": "datum.genes + ' genes'", "as": "label"}], "mark": {"type": "text"}, "encoding": {"y": {"datum": 0, "axis": null}, "text": {"field": "label"}}},
    {"data": {"name": "venn"}, "transform": [{"filter": "datum.panel == 'F' && datum.region == 'kTSP only'"}, {"calculate": "datum.genes + ' genes'", "as": "label"}], "mark": {"type": "text"}, "encoding": {"y": {"datum": -1, "axis": null}, "text": {"field": "label"}}}
   ]},
  {"width": 217.3, "height": 254.2,
   "layer": [
    {"data": {"name": "hist"}, "transform": [{"filter": "datum.panel == 'G-left'"}], "mark": {"type": "rect", "fill": "#c8c8c8", "stroke": "#333", "strokeWidth": 1},
     "encoding": {
      "x": {"field": "bin_start", "type": "quantitative", "scale": {"domain": [0.5, 1.5], "range": [62.7, 142.7]}, "axis": {"values": [0.5, 1.0, 1.5], "tickCount": 20, "format": ".1f", "labelOverlap": false, "offset": 5.1, "labelPadding": 11, "labelBaseline": "middle", "title": "Ratio: CLIC5 / AURKA", "titleY": 34.4, "titleBaseline": "middle"}},
      "x2": {"field": "bin_end"},
      "y": {"field": "count", "type": "quantitative", "scale": {"domain": [0, 250], "range": [254, 150.3]}, "axis": {"values": [0, 50, 100, 150, 200, 250], "tickCount": 20, "format": "d", "labelOverlap": false, "offset": -40, "labelPadding": 3, "title": "number of samples", "titleX": -32, "titleY": 197, "titleBaseline": "middle"}},
      "y2": {"datum": 0}}},
    {"data": {"name": "panels"}, "transform": [{"filter": "datum.panel == 'G-left'"}], "mark": {"type": "rule", "strokeDash": [4, 3], "color": "#333", "strokeWidth": 1}, "encoding": {"x": {"datum": 1}, "y": {"datum": 299}, "y2": {"datum": 0}}},
    {"data": {"name": "panels"}, "transform": [{"filter": "datum.panel == 'G-left'"}], "mark": {"type": "text", "fontSize": 11, "lineBreak": "\n", "lineHeight": 13.3}, "encoding": {"x": {"datum": 1.0}, "y": {"datum": 338.2}, "text": {"field": "title"}}},
    {"data": {"name": "panels"}, "transform": [{"filter": "datum.panel == 'G-left'"}], "mark": {"type": "text", "fontSize": 17, "fontWeight": "bold"}, "encoding": {"x": {"datum": -0.109}, "y": {"datum": 381}, "text": {"value": "G)"}}}
   ]},
  {"width": 193.2, "height": 254.2,
   "layer": [
    {"data": {"name": "hist"}, "transform": [{"filter": "datum.panel == 'G-right'"}], "mark": {"type": "rect", "fill": "#c8c8c8", "stroke": "#333", "strokeWidth": 1},
     "encoding": {
      "x": {"field": "bin_start", "type": "quantitative", "scale": {"domain": [0.4, 1.2], "range": [11, 123.4]}, "axis": {"values": [0.4, 0.6, 0.8, 1.0, 1.2], "tickCount": 20, "format": ".1f", "labelOverlap": false, "offset": 5.1, "labelPadding": 11, "labelBaseline": "middle", "title": "Ratio: CLIC5 / AURKA", "titleX": 71.4, "titleY": 34.4, "titleBaseline": "middle"}},
      "x2": {"field": "bin_end"},
      "y": {"field": "count", "type": "quantitative", "scale": {"domain": [0, 20], "range": [254.3, 136.3]}, "axis": {"values": [0, 5, 10, 15, 20], "tickCount": 20, "format": "d", "labelOverlap": false, "offset": -5.4, "labelPadding": 3, "title": "number of samples", "titleX": -30, "titleY": 198.7, "titleBaseline": "middle"}},
      "y2": {"datum": 0}}},
    {"data": {"name": "panels"}, "transform": [{"filter": "datum.panel == 'G-right'"}], "mark": {"type": "rule", "strokeDash": [4, 3], "color": "#333", "strokeWidth": 1}, "encoding": {"x": {"datum": 1}, "y": {"datum": 20.8}, "y2": {"datum": 0}}},
    {"data": {"name": "panels"}, "transform": [{"filter": "datum.panel == 'G-right'"}], "mark": {"type": "text", "fontSize": 11, "lineBreak": "\n", "lineHeight": 13.3}, "encoding": {"x": {"datum": 0.83}, "y": {"datum": 23.83}, "text": {"field": "title"}}}
   ]},
  {"width": 189.5, "height": 254.2,
   "layer": [
    {"data": {"name": "hist"}, "transform": [{"filter": "datum.panel == 'H-left'"}], "mark": {"type": "rect", "fill": "#c8c8c8", "stroke": "#333", "strokeWidth": 1},
     "encoding": {
      "x": {"field": "bin_start", "type": "quantitative", "scale": {"domain": [0, 3], "range": [41.8, 168.8]}, "axis": {"values": [0, 0.5, 1, 1.5, 2, 2.5, 3], "tickCount": 20, "format": ".1f", "labelOverlap": false, "offset": 5.1, "labelPadding": 11, "labelBaseline": "middle", "title": "Ratio: SCTR / CCNB2", "titleY": 34.4, "titleBaseline": "middle"}},
      "x2": {"field": "bin_end"},
      "y": {"field": "count", "type": "quantitative", "scale": {"domain": [0, 600], "range": [254.3, 135.3]}, "axis": {"values": [0, 100, 200, 300, 400, 500, 600], "tickCount": 20, "format": "d", "labelOverlap": false, "offset": -36.7, "labelPadding": 3, "title": "number of samples", "titleX": -40, "titleY": 192, "titleBaseline": "middle"}},
      "y2": {"datum": 0}}},
    {"data": {"name": "panels"}, "transform": [{"filter": "datum.panel == 'H-left'"}], "mark": {"type": "rule", "strokeDash": [4, 3], "color": "#333", "strokeWidth": 1}, "encoding": {"x": {"datum": 1}, "y": {"datum": 624}, "y2": {"datum": 0}}},
    {"data": {"name": "panels"}, "transform": [{"filter": "datum.panel == 'H-left'"}], "mark": {"type": "text", "fontSize": 11, "lineBreak": "\n", "lineHeight": 13.3}, "encoding": {"x": {"datum": 1.45}, "y": {"datum": 708.9}, "text": {"field": "title"}}},
    {"data": {"name": "panels"}, "transform": [{"filter": "datum.panel == 'H-left'"}], "mark": {"type": "text", "fontSize": 17, "fontWeight": "bold"}, "encoding": {"x": {"datum": -0.94}, "y": {"datum": 798.2}, "text": {"value": "H)"}}}
   ]},
  {"width": 163, "height": 254.2,
   "layer": [
    {"data": {"name": "hist"}, "transform": [{"filter": "datum.panel == 'H-right'"}], "mark": {"type": "rect", "fill": "#c8c8c8", "stroke": "#333", "strokeWidth": 1},
     "encoding": {
      "x": {"field": "bin_start", "type": "quantitative", "scale": {"domain": [0, 3], "range": [28.3, 155]}, "axis": {"values": [0, 0.5, 1, 1.5, 2, 2.5, 3], "tickCount": 20, "format": ".1f", "labelOverlap": false, "offset": 5.1, "labelPadding": 11, "labelBaseline": "middle", "title": "Ratio: SCTR / CCNB2", "titleY": 34.4, "titleBaseline": "middle"}},
      "x2": {"field": "bin_end"},
      "y": {"field": "count", "type": "quantitative", "scale": {"domain": [0, 40], "range": [254.3, 138]}, "axis": {"values": [0, 10, 20, 30, 40], "tickCount": 20, "format": "d", "labelOverlap": false, "offset": -23.2, "labelPadding": 3, "title": "number of samples", "titleX": -33, "titleY": 194.5, "titleBaseline": "middle"}},
      "y2": {"datum": 0}}},
    {"data": {"name": "panels"}, "transform": [{"filter": "datum.panel == 'H-right'"}], "mark": {"type": "rule", "strokeDash": [4, 3], "color": "#333", "strokeWidth": 1}, "encoding": {"x": {"datum": 1}, "y": {"datum": 42.6}, "y2": {"datum": 0}}},
    {"data": {"name": "panels"}, "transform": [{"filter": "datum.panel == 'H-right'"}], "mark": {"type": "text", "fontSize": 11, "lineBreak": "\n", "lineHeight": 13.3}, "encoding": {"x": {"datum": 1.42}, "y": {"datum": 48.36}, "text": {"field": "title"}}}
   ]}
]
}
